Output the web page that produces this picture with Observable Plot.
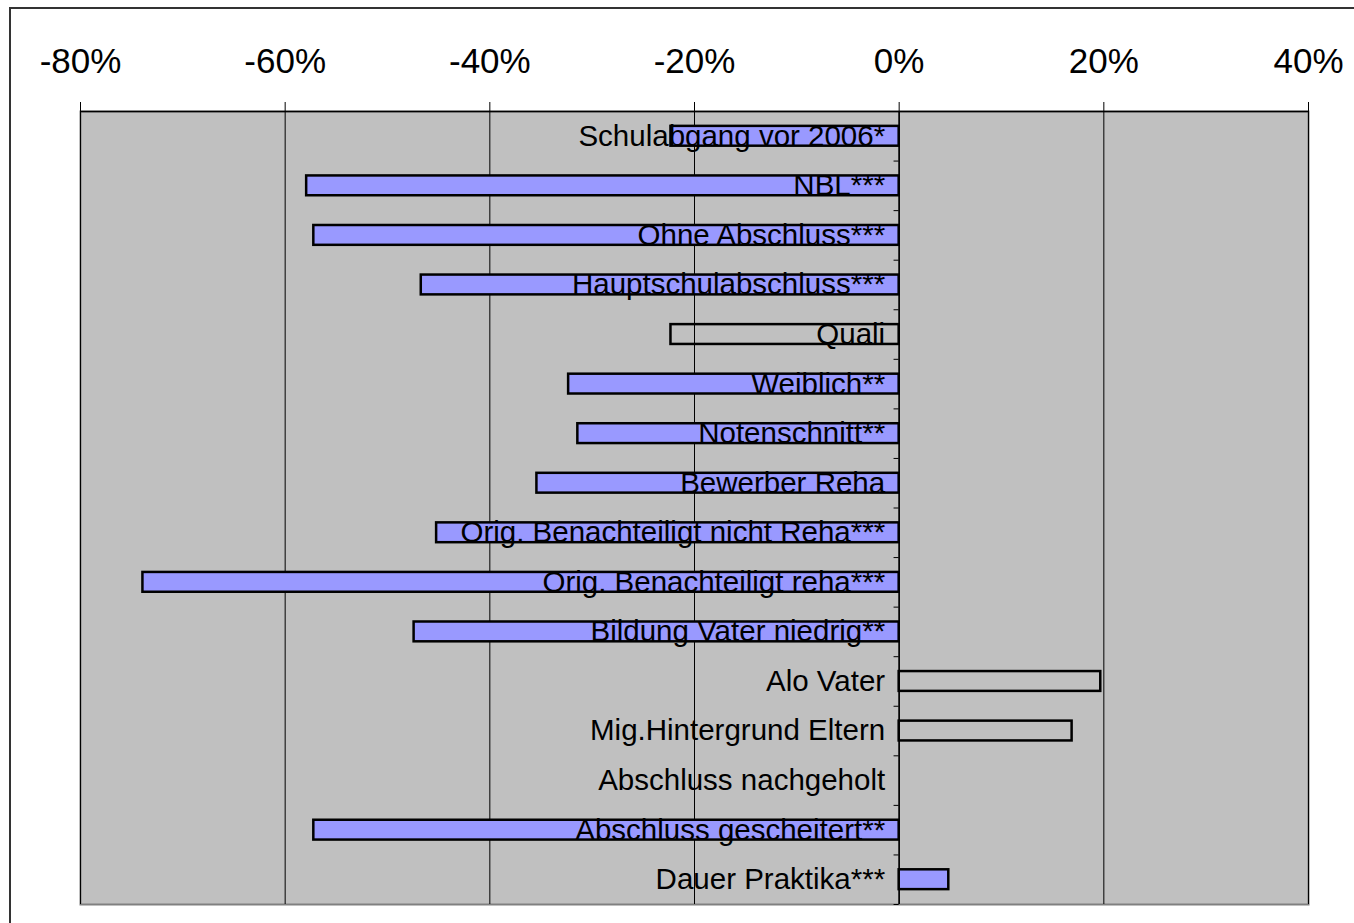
<!DOCTYPE html>
<html>
<head>
<meta charset="utf-8">
<script src="https://cdn.jsdelivr.net/npm/d3@7"></script>
<script src="https://cdn.jsdelivr.net/npm/@observablehq/plot@0.6"></script>
<style>
  html, body { margin: 0; padding: 0; background: #fff; overflow: hidden; }
  #wrap { position: relative; width: 1354px; height: 923px; }
  #frame { position: absolute; left: 9px; top: 7px; width: 1360px; height: 940px; border: 2px solid #333; box-sizing: border-box; }
  #chart { position: absolute; left: 0; top: 0; }
</style>
</head>
<body>
<div id="wrap"><div id="frame"></div><div id="chart"></div></div>
<script>
const categories = [
  "Schulabgang vor 2006*",
  "NBL***",
  "Ohne Abschluss***",
  "Hauptschulabschluss***",
  "Quali",
  "Weiblich**",
  "Notenschnitt**",
  "Bewerber Reha",
  "Orig. Benachteiligt nicht Reha***",
  "Orig. Benachteiligt reha***",
  "Bildung Vater niedrig**",
  "Alo Vater",
  "Mig.Hintergrund Eltern",
  "Abschluss nachgeholt",
  "Abschluss gescheitert**",
  "Dauer Praktika***"
];
const values = [-0.223, -0.579, -0.572, -0.467, -0.223, -0.323, -0.314, -0.354, -0.452, -0.739, -0.474, 0.197, 0.169, 0, -0.572, 0.0485];
const filled = [true, true, true, true, false, true, true, true, true, true, true, false, false, false, true, true];
const xTicks = [-0.8, -0.6, -0.4, -0.2, 0, 0.2, 0.4];

const data = categories.map((c, i) => ({cat: c, v: values[i], filled: filled[i]}));
const pct = d => Math.round(d * 100) + "%";

const W = 1354, H = 923;
const mTop = 111, mBottom = 19, mLeft = 80, mRight = 46;
const step = (H - mTop - mBottom) / categories.length;

const chart = Plot.plot({
  width: W,
  height: H,
  marginTop: mTop,
  marginBottom: mBottom,
  marginLeft: mLeft,
  marginRight: mRight,
  style: {fontFamily: "Arial, 'Liberation Sans', sans-serif", background: "transparent", color: "#000"},
  x: {domain: [-0.8, 0.4], ticks: xTicks, tickFormat: pct, label: null},
  y: {domain: categories, paddingInner: 0.6, paddingOuter: 0.3, round: false, axis: null},
  marks: [
    Plot.frame({fill: "#C0C0C0", stroke: "#808080", strokeWidth: 2}),
    Plot.gridX(xTicks, {stroke: "#000", strokeOpacity: 1, strokeWidth: 1}),
    Plot.ruleY([categories[0]], {x1: -0.8, x2: 0.4, dy: -step / 2, stroke: "#000", strokeWidth: 1.5}),
    Plot.axisX(xTicks, {anchor: "top", tickSize: 10, tickPadding: 29, fontSize: 35, tickFormat: pct, label: null, stroke: "#000"}),
    Plot.barX(data.filter(d => d.v !== 0), {x1: 0, x2: "v", y: "cat", fill: d => d.filled ? "#9999FF" : "none", stroke: "#000", strokeWidth: 2.5}),
    Plot.ruleX([0], {stroke: "#000", strokeWidth: 1.5}),
    Plot.ruleY(categories, {y: d => d, x1: -0.005, x2: 0, dy: step / 2, stroke: "#000", strokeWidth: 1}),
    Plot.text(data, {x: 0, y: "cat", text: "cat", textAnchor: "end", lineAnchor: "middle", dx: -14, fontSize: 29.5, fill: "#000"})
  ]
});
document.getElementById("chart").appendChild(chart);
</script>
</body>
</html>
